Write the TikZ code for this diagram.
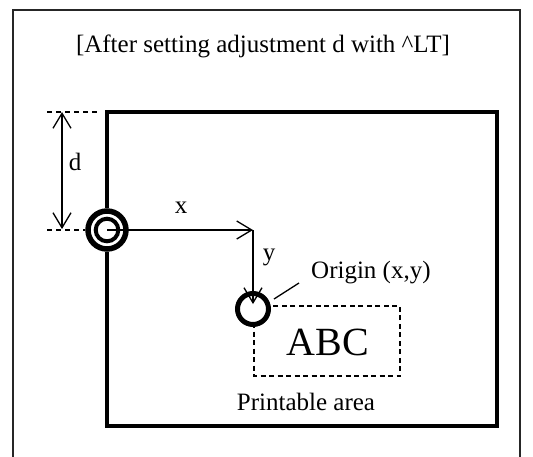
\documentclass[tikz,border=0pt]{standalone}
\usepackage{fontspec}
\setmainfont{Liberation Serif}
\usetikzlibrary{arrows.meta}
\begin{document}
\begin{tikzpicture}[x=1pt,y=-1pt,
  lbl/.style={font=\fontsize{25}{29}\selectfont, inner sep=0pt},
  arr/.style={line width=1.3pt, -{Straight Barb[length=15pt,width=18pt]}},
  dimarr/.style={line width=1.3pt, {Straight Barb[length=15pt,width=18pt]}-{Straight Barb[length=15pt,width=18pt]}},
  guide/.style={line width=1.2pt, dash pattern=on 5pt off 4pt},
  area/.style={line width=1.3pt, dash pattern=on 5pt off 3.5pt},
]
\useasboundingbox (0,0) rectangle (533,456);
% outer frame (bottom edge lies outside the picture)
\draw[line width=2pt, draw=black!85] (13,470) -- (13,10) -- (520,10) -- (520,470);
\node[lbl, anchor=base] (title) at (263,52) {[After setting adjustment d with \textasciicircum LT]};
% paper
\draw[line width=4pt] (107,112) rectangle (497,426);
% coordinates
\coordinate (O1) at (107,230);
\coordinate (X) at (253,230);
\coordinate (O2) at (253,309);
\coordinate (ytip) at (253,304);
\coordinate (gA) at (47,112); \coordinate (gB) at (100,112);
\coordinate (gC) at (47,230); \coordinate (gD) at (85,230);
\coordinate (dT) at (62,112); \coordinate (dB) at (62,229);
% guides and d
\draw[guide] (gA) -- (gB);
\draw[guide] (gC) -- (gD);
\draw[dimarr] (dT) -- (dB);
\node[lbl] (dlbl) at (75,162) {d};
% printable area
\draw[area] (254,306) rectangle (400,376);
\node[font=\fontsize{40}{44}\selectfont, inner sep=0pt] (abc) at (328,342) {ABC};
\node[lbl, anchor=base] (pa) at (306,410) {Printable area};
% double circle
\fill[white] (O1) circle (22);
\draw[line width=5.5pt] (O1) circle (19);
\draw[line width=4pt] (O1) circle (11.3);
\draw[arr] (O1) -- (X);
\node[lbl] (xlbl) at (181,208) {x};
% origin circle
\fill[white] (O2) circle (18);
\draw[line width=5pt] (O2) circle (15.5);
\draw[arr] (X) -- (ytip);
\node[lbl] (ylbl) at (269,257) {y};
\coordinate (lA) at (274,299); \coordinate (lB) at (299,283);
\draw[line width=1.3pt] (lA) -- (lB);
\node[lbl, anchor=west] (orig) at (311,273) {Origin (x,y)};
\end{tikzpicture}
\end{document}
